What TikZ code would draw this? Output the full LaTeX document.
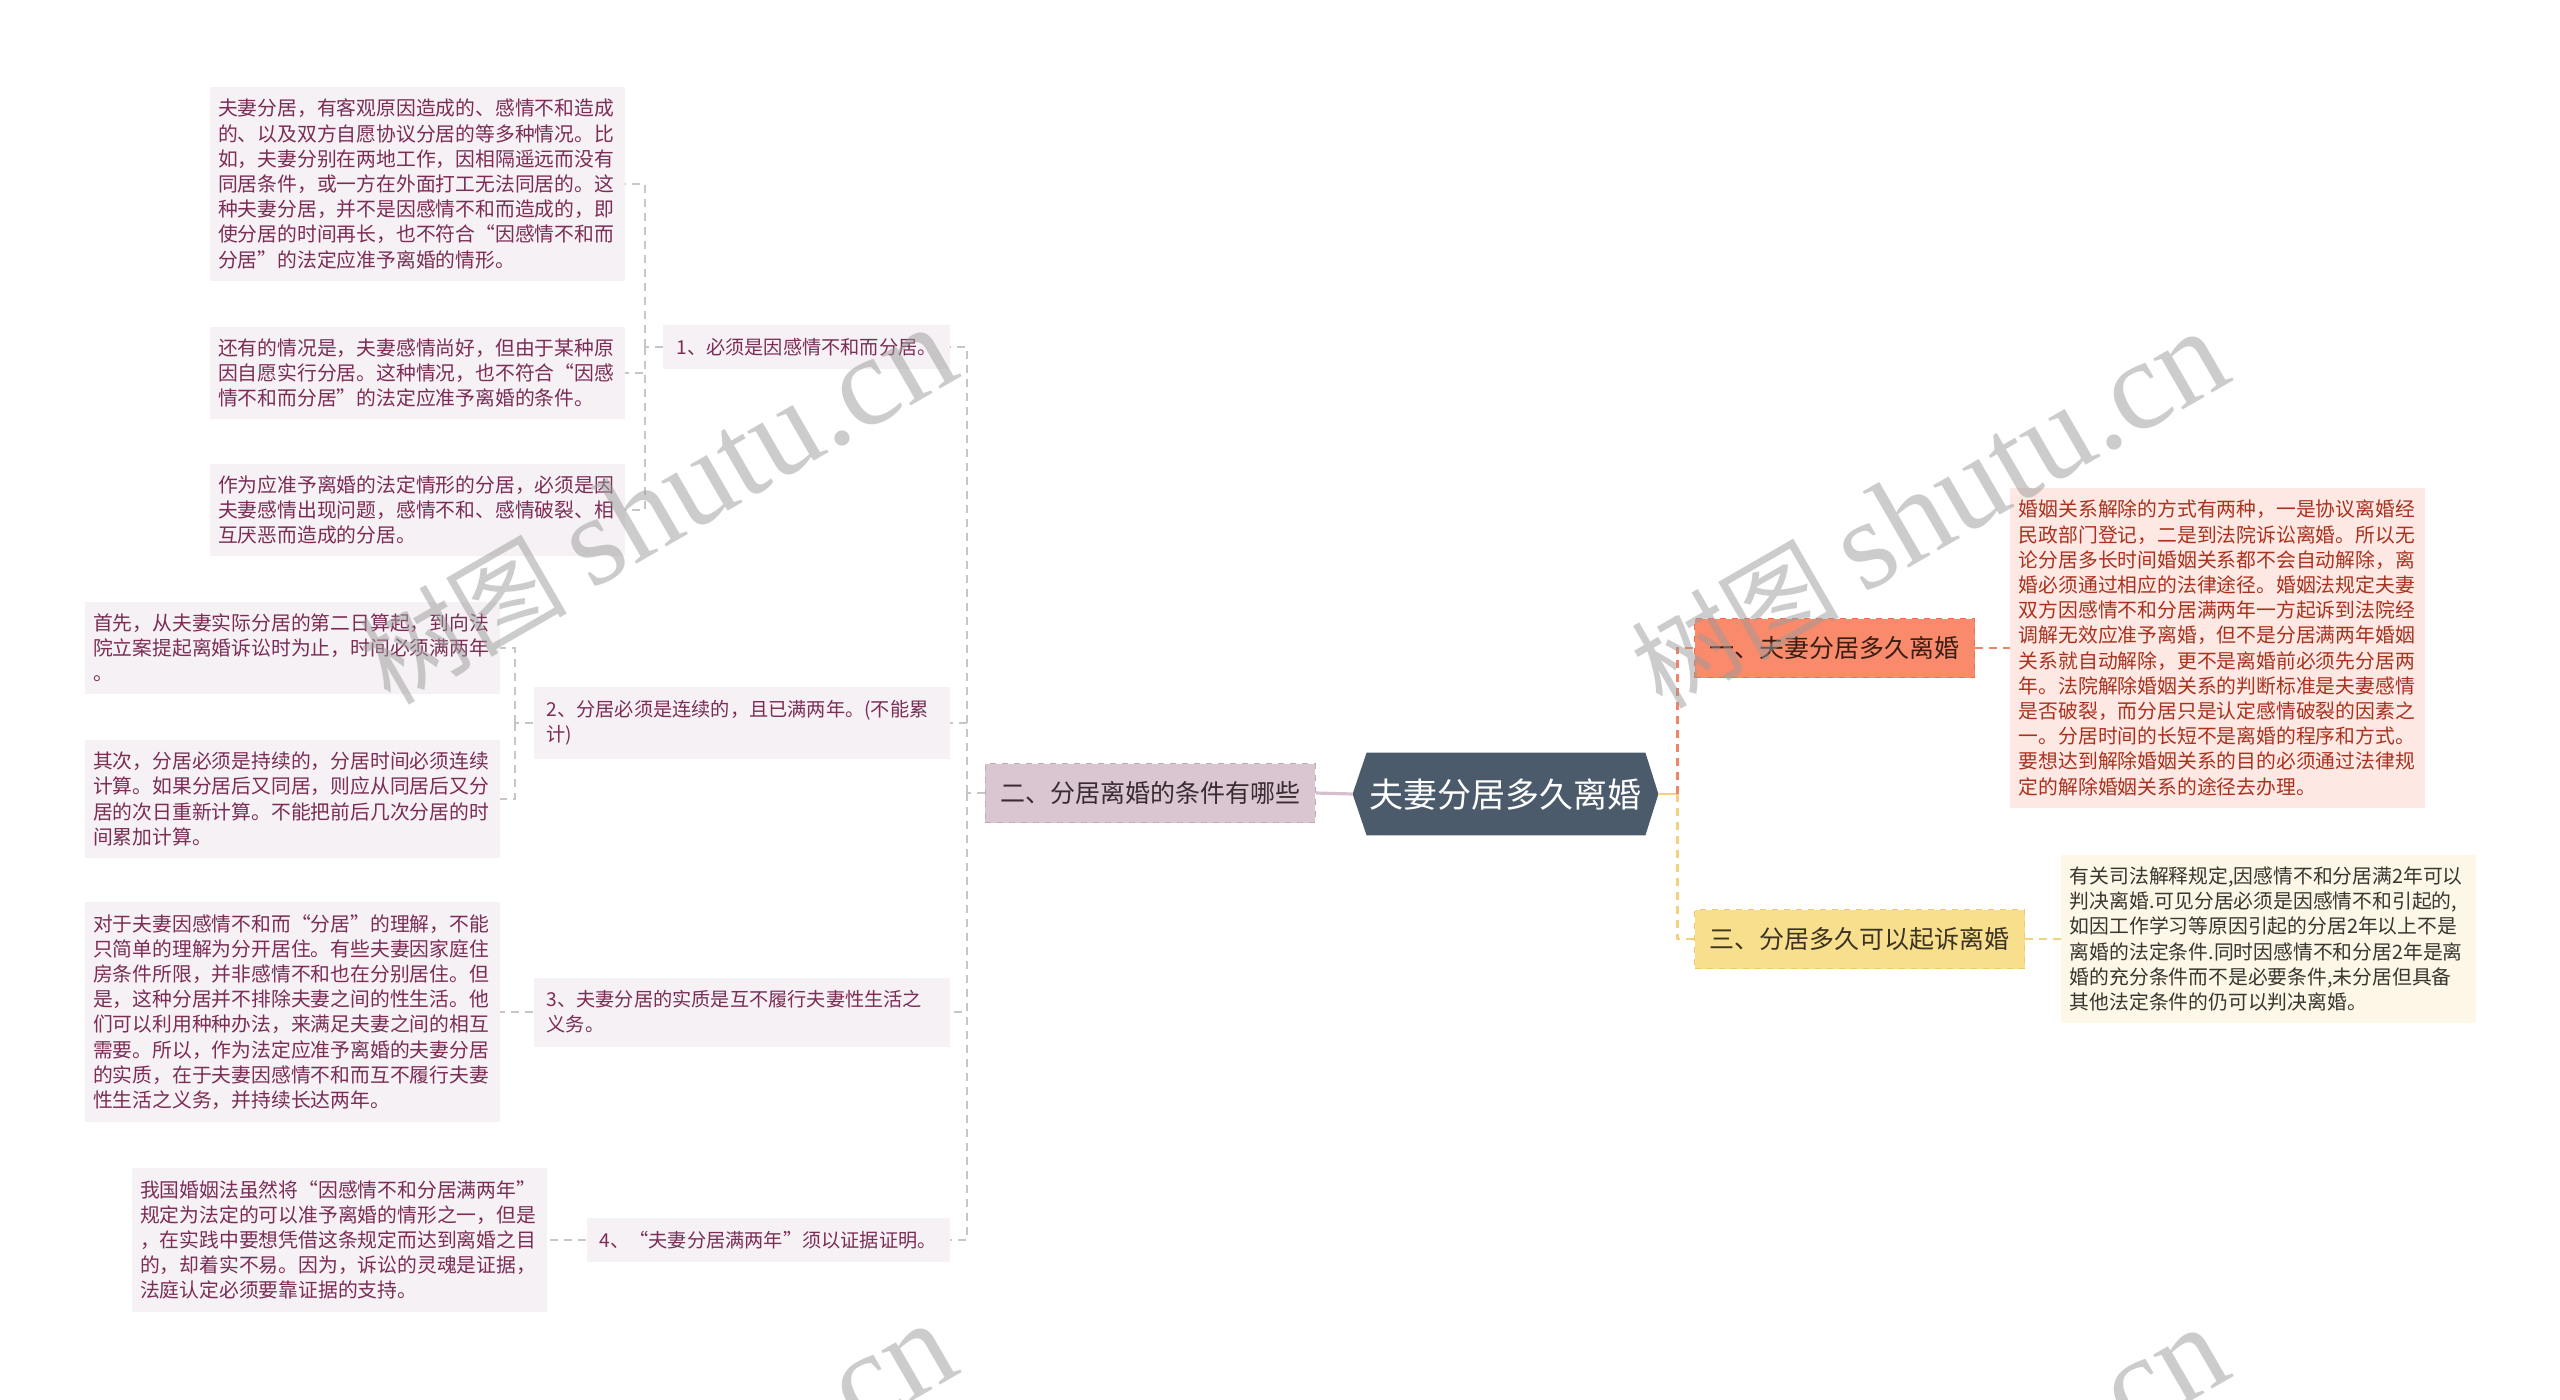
\documentclass[tikz,border=0pt]{standalone}
\usepackage{fontspec}
\setmainfont{Noto Sans CJK SC}
\newfontfamily\wmserif{Liberation Serif}
\usetikzlibrary{backgrounds}
\definecolor{leafbg}{HTML}{F6F1F4}
\definecolor{leaftext}{HTML}{7B2D57}
\definecolor{onedbg}{HTML}{FDE8E3}
\definecolor{onedtext}{HTML}{A9321F}
\definecolor{thrdbg}{HTML}{FDF7E7}
\definecolor{thrdtext}{HTML}{3A3530}
\definecolor{twobg}{HTML}{D9C6D1}
\definecolor{twoline}{HTML}{C2A9B8}
\definecolor{twotext}{HTML}{3A2B33}
\definecolor{onebg}{HTML}{F98A6C}
\definecolor{oneline}{HTML}{E9704F}
\definecolor{onetext}{HTML}{3A1E14}
\definecolor{thrbg}{HTML}{F8DF8E}
\definecolor{thrline}{HTML}{EDCA6C}
\definecolor{thrtext}{HTML}{3C3322}
\definecolor{rootbg}{HTML}{4B5B6B}
\definecolor{lineg}{HTML}{C9C4C7}
\definecolor{twolink}{HTML}{D5BFCC}
\definecolor{olink}{HTML}{EF8466}
\definecolor{ylink}{HTML}{F2D27E}
\definecolor{wmgray}{HTML}{9A9A9A}
\newcommand{\dfont}{\fontsize{9.9}{12.6}\selectfont}
\newcommand{\sfont}{\fontsize{9.6}{12.6}\selectfont}
\newcommand{\bfont}{\fontsize{12.5}{15}\selectfont}
\newcommand{\rfont}{\fontsize{17}{20}\selectfont}

\begin{document}
\begin{tikzpicture}[x=0.5pt,y=-0.5pt,
  leaf/.style={fill=leafbg, text=leaftext, font=\dfont, align=left,
    text width=199pt, inner xsep=4.25pt, inner ysep=6pt},
  sub/.style={fill=leafbg, text=leaftext, font=\sfont, align=left,
    inner xsep=6.5pt, inner ysep=6.5pt, anchor=east},
  branch/.style={font=\bfont, inner xsep=7.5pt, minimum height=29.5pt,
    dashed, line width=0.6pt},
  gline/.style={draw=lineg, line width=0.75pt, dash pattern=on 4pt off 3pt},
  oline/.style={draw=olink, line width=1.1pt, dash pattern=on 4pt off 3pt},
  yline/.style={draw=ylink, line width=1.1pt, dash pattern=on 4pt off 3pt},
  wmark/.style={text=wmgray, text opacity=0.5, font=\fontsize{52}{52}\selectfont,
    rotate=30, inner sep=0pt}]
  \useasboundingbox (0,0) rectangle (2560,1399);

  % root
  \node[font=\rfont, text=white, minimum width=152.5pt, minimum height=41pt,
    inner sep=0pt] (root) at (1505.5,794) {夫妻分居多久离婚};
  \begin{scope}[on background layer]
    \fill[rootbg] (root.west) -- ([xshift=7pt]root.north west)
      -- ([xshift=-6.5pt]root.north east) -- (root.east)
      -- ([xshift=-6.5pt]root.south east) -- ([xshift=7pt]root.south west) -- cycle;
  \end{scope}

  % branches
  \node[branch, fill=twobg, draw=twoline, text=twotext, anchor=east] (two) at (1316,793) {二、分居离婚的条件有哪些};
  \node[branch, fill=onebg, draw=oneline, text=onetext, anchor=west] (one) at (1694,648) {一、夫妻分居多久离婚};
  \node[branch, fill=thrbg, draw=thrline, text=thrtext, anchor=west] (thr) at (1694,939) {三、分居多久可以起诉离婚};

  % right side texts
  \node[leaf, fill=onedbg, text=onedtext, anchor=west] (oned) at (2010,648) {婚姻关系解除的方式有两种，一是协议离婚经\\民政部门登记，二是到法院诉讼离婚。所以无\\论分居多长时间婚姻关系都不会自动解除，离\\婚必须通过相应的法律途径。婚姻法规定夫妻\\双方因感情不和分居满两年一方起诉到法院经\\调解无效应准予离婚，但不是分居满两年婚姻\\关系就自动解除，更不是离婚前必须先分居两\\年。法院解除婚姻关系的判断标准是夫妻感情\\是否破裂，而分居只是认定感情破裂的因素之\\一。分居时间的长短不是离婚的程序和方式。\\要想达到解除婚姻关系的目的必须通过法律规\\定的解除婚姻关系的途径去办理。};
  \node[leaf, fill=thrdbg, text=thrdtext, anchor=west] (thrd) at (2061,939) {有关司法解释规定,因感情不和分居满2年可以\\判决离婚.可见分居必须是因感情不和引起的,\\如因工作学习等原因引起的分居2年以上不是\\离婚的法定条件.同时因感情不和分居2年是离\\婚的充分条件而不是必要条件,未分居但具备\\其他法定条件的仍可以判决离婚。};

  % left side
  \node[sub] (s1) at (950,347) {1、必须是因感情不和而分居。};
  \node[sub, text width=195pt] (s2) at (950,723) {2、分居必须是连续的，且已满两年。(不能累\\计)};
  \node[sub, text width=195pt] (s3) at (950,1012) {3、夫妻分居的实质是互不履行夫妻性生活之\\义务。};
  \node[sub] (s4) at (950,1240) {4、“夫妻分居满两年”须以证据证明。};

  \node[leaf, anchor=east] (la) at (625,184) {夫妻分居，有客观原因造成的、感情不和造成\\的、以及双方自愿协议分居的等多种情况。比\\如，夫妻分别在两地工作，因相隔遥远而没有\\同居条件，或一方在外面打工无法同居的。这\\种夫妻分居，并不是因感情不和而造成的，即\\使分居的时间再长，也不符合“因感情不和而\\分居”的法定应准予离婚的情形。};
  \node[leaf, anchor=east] (lb) at (625,373) {还有的情况是，夫妻感情尚好，但由于某种原\\因自愿实行分居。这种情况，也不符合“因感\\情不和而分居”的法定应准予离婚的条件。};
  \node[leaf, anchor=east] (lc) at (625,510) {作为应准予离婚的法定情形的分居，必须是因\\夫妻感情出现问题，感情不和、感情破裂、相\\互厌恶而造成的分居。};
  \node[leaf, anchor=east] (ld) at (500,648) {首先，从夫妻实际分居的第二日算起，到向法\\院立案提起离婚诉讼时为止，时间必须满两年\\。};
  \node[leaf, anchor=east] (le) at (500,799) {其次，分居必须是持续的，分居时间必须连续\\计算。如果分居后又同居，则应从同居后又分\\居的次日重新计算。不能把前后几次分居的时\\间累加计算。};
  \node[leaf, anchor=east] (lf) at (500,1012) {对于夫妻因感情不和而“分居”的理解，不能\\只简单的理解为分开居住。有些夫妻因家庭住\\房条件所限，并非感情不和也在分别居住。但\\是，这种分居并不排除夫妻之间的性生活。他\\们可以利用种种办法，来满足夫妻之间的相互\\需要。所以，作为法定应准予离婚的夫妻分居\\的实质，在于夫妻因感情不和而互不履行夫妻\\性生活之义务，并持续长达两年。};
  \node[leaf, anchor=east] (lg) at (547,1240) {我国婚姻法虽然将“因感情不和分居满两年”\\规定为法定的可以准予离婚的情形之一，但是\\，在实践中要想凭借这条规定而达到离婚之目\\的，却着实不易。因为，诉讼的灵魂是证据，\\法庭认定必须要靠证据的支持。};

  % connectors
  \draw[twolink, line width=1.6pt] (root.west) -- (two.east);
  \draw[gline] (two.west) -- ++(-18,0) coordinate (jm);
  \foreach \n in {s1,s2,s3,s4} \draw[gline] (jm) |- (\n.east);
  \draw[gline] (s1.west) -- ++(-18,0) coordinate (j1);
  \foreach \n in {la,lb,lc} \draw[gline] (j1) |- (\n.east);
  \draw[gline] (s2.west) -- ++(-18,0) coordinate (j2);
  \foreach \n in {ld,le} \draw[gline] (j2) |- (\n.east);
  \draw[gline] (s3.west) -- (lf.east);
  \draw[gline] (s4.west) -- (lg.east);

  \draw[ylink, line width=1.2pt] (root.east) -- ++(19,0) coordinate (jr);
  \draw[oline] (jr) |- (one.west);
  \draw[yline] (jr) |- (thr.west);
  \draw[oline] (one.east) -- (oned.west);
  \draw[yline] (thr.east) -- (thrd.west);

  % watermark
  \begin{scope}
    \clip (0,0) rectangle (2560,1399);
    \foreach \x/\y [count=\i] in {657/506, 1929/510, 657/1502, 1929/1506}
      \node[wmark] (wm\i) at (\x,\y) {树图 {\fontsize{64}{64}\selectfont\wmserif shutu.cn}};
  \end{scope}
\end{tikzpicture}
\end{document}
